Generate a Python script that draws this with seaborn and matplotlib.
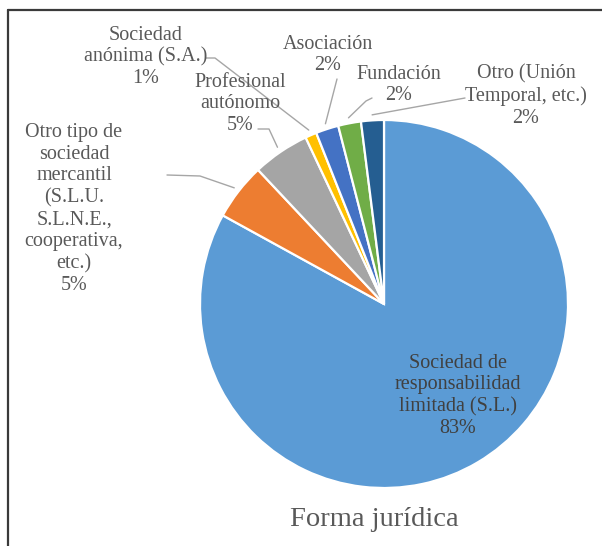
import matplotlib
matplotlib.use("Agg")
import matplotlib.pyplot as plt
import numpy as np
import seaborn as sns

# Legal form of the surveyed firms (share of responses, %)
categories = [
    "Sociedad de\nresponsabilidad\nlimitada (S.L.)",
    "Otro tipo de\nsociedad\nmercantil\n(S.L.U.\nS.L.N.E.,\ncooperativa,\netc.)",
    "Profesional\nautónomo",
    "Sociedad\nanónima (S.A.)",
    "Asociación",
    "Fundación",
    "Otro (Unión\nTemporal, etc.)",
]
shares = [83, 5, 5, 1, 2, 2, 2]
colors = ["#5B9BD5", "#ED7D31", "#A5A5A5", "#FFC000", "#4472C4", "#70AD47", "#255E91"]
title = "Forma jurídica"

sns.set_theme(style="white")
plt.rcParams["font.family"] = ["Liberation Serif", "DejaVu Serif"]

W, H = 602, 546
fig = plt.figure(figsize=(W / 100, H / 100), dpi=100)
fig.patch.set_facecolor("white")

# pie centre and radius in pixels
cx, cy, r = 384, 304, 184
ax = fig.add_axes([(cx - r) / W, (H - cy - r) / H, 2 * r / W, 2 * r / H])
wedges, _ = ax.pie(
    shares, colors=colors, startangle=90, counterclock=False, radius=1,
    wedgeprops=dict(edgecolor="white", linewidth=1.6),
)
ax.set_xlim(-1, 1)
ax.set_ylim(-1, 1)
ax.set_aspect("equal")
ax.axis("off")

text_color = "#595959"
line_color = "#a6a6a6"
fs = 14.5


def to_data(px, py):
    disp = fig.transFigure.transform((px / W, 1 - py / H))
    return ax.transData.inverted().transform(disp)


def wedge_edge(w, rr=1.03):
    ang = np.deg2rad((w.theta1 + w.theta2) / 2)
    return rr * np.cos(ang), rr * np.sin(ang)


# label placement (block centre in pixels) and leader elbows
label_pos = [
    (458, 396),
    (74, 209),
    (240, 104),
    (146, 57),
    (328, 55),
    (399, 85),
    (526, 96),
]
leaders = {
    1: [(167, 175), (200, 176)],
    2: [(258, 129), (269, 129)],
    3: [(206, 58), (215, 58)],
    4: [(337, 79)],
    5: [(372, 98), (366, 101)],
    6: [(465, 98)],
}

for i, (name, val) in enumerate(zip(categories, shares)):
    px, py = label_pos[i]
    color = "#404040" if i == 0 else text_color
    fig.text(px / W, 1 - py / H, f"{name}\n{val}%", ha="center", va="center",
             fontsize=fs, color=color, linespacing=1.2)
    if i in leaders:
        pts = [to_data(*p) for p in leaders[i]]
        pts.append(wedge_edge(wedges[i]))
        xs, ys = zip(*pts)
        ax.plot(xs, ys, color=line_color, lw=1.0, clip_on=False)

fig.text(374 / W, 1 - 520 / H, title, ha="center", va="center",
         fontsize=20.5, color=text_color)

# frame lines along the top and left
fig.add_artist(plt.Line2D([8 / W, 1], [1 - 9.5 / H, 1 - 9.5 / H],
                          transform=fig.transFigure, color="#3a3a3a", lw=1.6))
fig.add_artist(plt.Line2D([8 / W, 8 / W], [0, 1 - 9.5 / H],
                          transform=fig.transFigure, color="#3a3a3a", lw=1.6))

fig.savefig("out.png", dpi=100, facecolor="white")
